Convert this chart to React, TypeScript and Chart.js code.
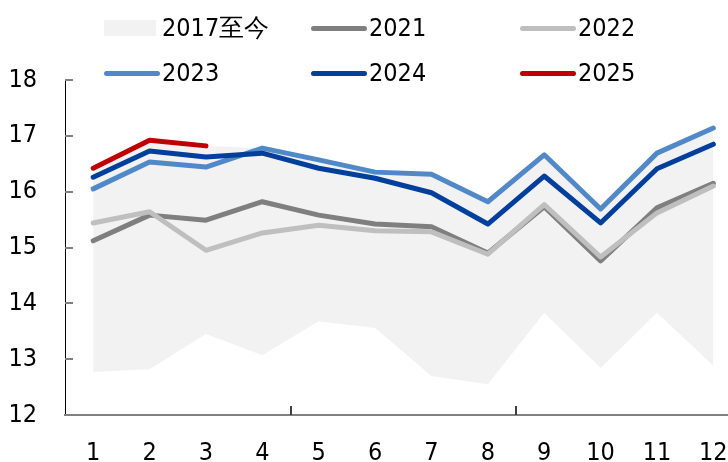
import React, { useEffect, useRef } from "react";
import { Chart, registerables } from "chart.js";

Chart.register(...registerables);

const months = [1, 2, 3, 4, 5, 6, 7, 8, 9, 10, 11, 12];
const yTicks = [12, 13, 14, 15, 16, 17, 18];
const xTickMarks = [4.5, 8.5];

const bandHigh = [16.43, 16.92, 16.82, 16.78, 16.57, 16.35, 16.31, 15.82, 16.66, 15.69, 16.69, 17.14];
const bandLow = [12.77, 12.82, 13.45, 13.07, 13.68, 13.56, 12.7, 12.55, 13.83, 12.84, 13.83, 12.88];
const s2021 = [15.12, 15.58, 15.49, 15.82, 15.58, 15.42, 15.37, 14.9, 15.73, 14.76, 15.71, 16.15];
const s2022 = [15.44, 15.64, 14.95, 15.26, 15.4, 15.3, 15.28, 14.88, 15.77, 14.83, 15.62, 16.1];
const s2023 = [16.05, 16.53, 16.44, 16.78, 16.57, 16.35, 16.31, 15.82, 16.66, 15.69, 16.69, 17.14];
const s2024 = [16.26, 16.73, 16.62, 16.69, 16.42, 16.24, 15.98, 15.42, 16.28, 15.44, 16.41, 16.85];
const s2025 = [16.42, 16.92, 16.82, null, null, null, null, null, null, null, null, null];

const FONT_FAMILY = "'DejaVu Sans Condensed', 'DejaVu Sans', sans-serif";
const FONT_SIZE = 25;

const COLORS = {
  band: "#f2f2f2",
  c2021: "#7f7f7f",
  c2022: "#bfbfbf",
  c2023: "#5088c8",
  c2024: "#003f9c",
  c2025: "#c00000",
};

const legendItems = [
  { label: "2017至今", color: COLORS.band, box: true, col: 0, row: 0 },
  { label: "2021", color: COLORS.c2021, box: false, col: 1, row: 0 },
  { label: "2022", color: COLORS.c2022, box: false, col: 2, row: 0 },
  { label: "2023", color: COLORS.c2023, box: false, col: 0, row: 1 },
  { label: "2024", color: COLORS.c2024, box: false, col: 1, row: 1 },
  { label: "2025", color: COLORS.c2025, box: false, col: 2, row: 1 },
];
const legendColX = [104, 311, 520];
const legendRowY = [28, 73];

const innerTicks = {
  id: "innerTicks",
  afterDraw(chart: any) {
    const { ctx, chartArea, scales } = chart;
    ctx.save();
    ctx.lineWidth = 2;
    ctx.strokeStyle = "#808080";
    for (const v of yTicks) {
      const y = Math.round(scales.y.getPixelForValue(v));
      ctx.beginPath();
      ctx.moveTo(chartArea.left, y);
      ctx.lineTo(chartArea.left + 8, y);
      ctx.stroke();
    }
    ctx.strokeStyle = "#404040";
    for (const v of xTickMarks) {
      const x = Math.round(scales.x.getPixelForValue(v));
      ctx.beginPath();
      ctx.moveTo(x, chartArea.bottom);
      ctx.lineTo(x, chartArea.bottom - 9);
      ctx.stroke();
    }
    ctx.restore();
  },
};

export default function App() {
  const ref = useRef<HTMLCanvasElement | null>(null);

  useEffect(() => {
    if (!ref.current) return;
    const line = (label: string, data: (number | null)[], color: string, order: number) => ({
      label,
      data,
      borderColor: color,
      backgroundColor: color,
      borderWidth: 5,
      pointRadius: 0,
      fill: false,
      order,
      spanGaps: false,
    });
    const font = { family: FONT_FAMILY, size: FONT_SIZE };
    const chart = new Chart(ref.current, {
      type: "line",
      data: {
        labels: months,
        datasets: [
          {
            label: "2017至今",
            data: bandHigh,
            borderWidth: 0,
            borderColor: "rgba(0,0,0,0)",
            backgroundColor: COLORS.band,
            pointRadius: 0,
            fill: { target: 1 },
            order: 100,
          },
          {
            label: "low",
            data: bandLow,
            borderWidth: 0,
            borderColor: "rgba(0,0,0,0)",
            pointRadius: 0,
            fill: false,
            order: 101,
          },
          line("2021", s2021, COLORS.c2021, 6),
          line("2022", s2022, COLORS.c2022, 5),
          line("2023", s2023, COLORS.c2023, 4),
          line("2024", s2024, COLORS.c2024, 3),
          line("2025", s2025, COLORS.c2025, 2),
        ] as any,
      },
      options: {
        animation: false,
        responsive: false,
        maintainAspectRatio: false,
        layout: { padding: { top: 80, left: 0, right: 0, bottom: 0 } },
        elements: {
          line: { tension: 0, borderCapStyle: "round", borderJoinStyle: "round" },
          point: { radius: 0 },
        },
        plugins: {
          legend: { display: false },
          tooltip: { enabled: false },
          filler: { drawTime: "beforeDatasetsDraw" },
        } as any,
        scales: {
          x: {
            type: "linear",
            min: 0.5,
            max: 12.26,
            afterBuildTicks: (s: any) => {
              s.ticks = months.map((v) => ({ value: v }));
            },
            afterFit: (s: any) => {
              s.height = 47;
              s.paddingLeft = 0;
              s.paddingRight = 0;
            },
            grid: { display: false, drawTicks: false },
            border: { display: true, color: "#808080", width: 2 },
            ticks: {
              padding: 23,
              font,
              color: "#000",
              autoSkip: false,
              maxRotation: 0,
              callback: (v: any) => String(v),
            },
          },
          y: {
            min: 12,
            max: 18,
            afterBuildTicks: (s: any) => {
              s.ticks = yTicks.map((v) => ({ value: v }));
            },
            afterFit: (s: any) => {
              s.width = 65;
              s.paddingTop = 0;
              s.paddingBottom = 0;
            },
            grid: { display: false, drawTicks: false },
            border: { display: true, color: "#000", width: 1 },
            ticks: { padding: 28, font, color: "#000", callback: (v: any) => String(v) },
          },
        } as any,
      },
      plugins: [innerTicks],
    });
    return () => chart.destroy();
  }, []);

  return (
    <div style={{ position: "absolute", left: 0, top: 0, width: 728, height: 462, background: "#fff" }}>
      <canvas ref={ref} width={728} height={462} style={{ position: "absolute", left: 0, top: 0 }} />
      {legendItems.map((it) => {
        const x = legendColX[it.col];
        const y = legendRowY[it.row];
        return (
          <div key={it.label}>
            {it.box ? (
              <div style={{ position: "absolute", left: x, top: y - 8, width: 52, height: 16, background: it.color }} />
            ) : (
              <div
                style={{
                  position: "absolute",
                  left: x,
                  top: y - 2.5,
                  width: 56,
                  height: 5,
                  borderRadius: 3,
                  background: it.color,
                }}
              />
            )}
            <span
              style={{
                position: "absolute",
                left: x + 58,
                top: y - 15,
                lineHeight: "30px",
                fontSize: FONT_SIZE,
                fontFamily: FONT_FAMILY,
                color: "#000",
                whiteSpace: "nowrap",
              }}
            >
              {it.label}
            </span>
          </div>
        );
      })}
    </div>
  );
}
